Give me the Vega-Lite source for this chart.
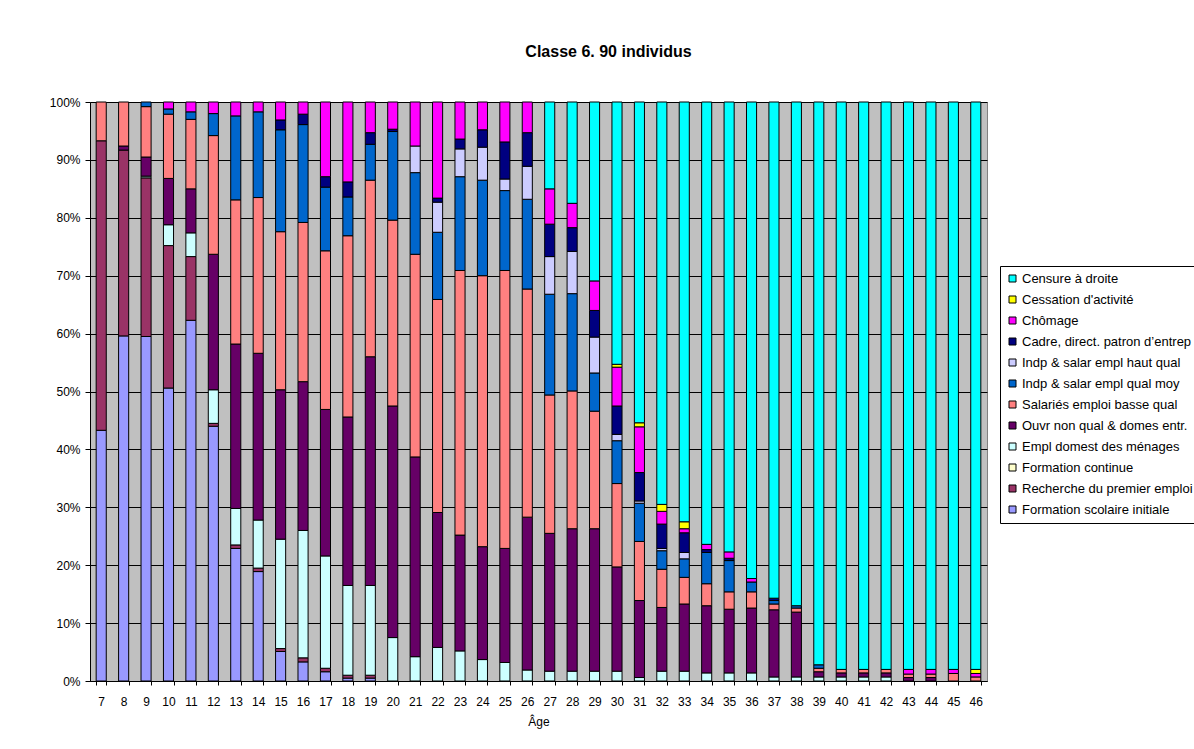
{
  "$schema": "https://vega.github.io/schema/vega-lite/v6.json",
  "autosize": {"type": "none"},
  "padding": {"left": 90, "top": 102, "right": 207, "bottom": 68},
  "width": 897,
  "height": 579,
  "title": {
    "text": "Classe 6. 90 individus",
    "fontSize": 16,
    "fontWeight": "bold",
    "font": "Liberation Sans",
    "color": "#000000",
    "anchor": "middle",
    "frame": "group",
    "baseline": "alphabetic",
    "offset": 23,
    "dx": 70
  },
  "datasets": {
    "statuts": [
      {"code": "FSI", "rang": 1, "libelle": "Formation scolaire initiale"},
      {"code": "RPE", "rang": 2, "libelle": "Recherche du premier emploi"},
      {"code": "FC", "rang": 3, "libelle": "Formation continue"},
      {"code": "ED", "rang": 4, "libelle": "Empl domest des ménages"},
      {"code": "ONQ", "rang": 5, "libelle": "Ouvr non qual & domes entr."},
      {"code": "SBQ", "rang": 6, "libelle": "Salariés emploi basse qual"},
      {"code": "IQM", "rang": 7, "libelle": "Indp & salar empl qual moy"},
      {"code": "IHQ", "rang": 8, "libelle": "Indp & salar empl haut qual"},
      {"code": "CAD", "rang": 9, "libelle": "Cadre, direct. patron d’entrep"},
      {"code": "CHO", "rang": 10, "libelle": "Chômage"},
      {"code": "CES", "rang": 11, "libelle": "Cessation d'activité"},
      {"code": "CEN", "rang": 12, "libelle": "Censure à droite"}
    ],
    "parcours": [
      {"age": 7, "code": "FSI", "pct": 43.3}, {"age": 7, "code": "RPE", "pct": 50.0}, {"age": 7, "code": "SBQ", "pct": 6.7},
      {"age": 8, "code": "FSI", "pct": 59.6}, {"age": 8, "code": "RPE", "pct": 32.1}, {"age": 8, "code": "ONQ", "pct": 0.7}, {"age": 8, "code": "SBQ", "pct": 7.6},
      {"age": 9, "code": "FSI", "pct": 59.5}, {"age": 9, "code": "RPE", "pct": 27.4}, {"age": 9, "code": "ED", "pct": 0.3}, {"age": 9, "code": "ONQ", "pct": 3.3}, {"age": 9, "code": "SBQ", "pct": 8.7}, {"age": 9, "code": "IQM", "pct": 0.8},
      {"age": 10, "code": "FSI", "pct": 50.6}, {"age": 10, "code": "RPE", "pct": 24.6}, {"age": 10, "code": "ED", "pct": 3.6}, {"age": 10, "code": "ONQ", "pct": 8.0}, {"age": 10, "code": "SBQ", "pct": 11.1}, {"age": 10, "code": "IQM", "pct": 0.9}, {"age": 10, "code": "CHO", "pct": 1.2},
      {"age": 11, "code": "FSI", "pct": 62.3}, {"age": 11, "code": "RPE", "pct": 11.0}, {"age": 11, "code": "ED", "pct": 4.1}, {"age": 11, "code": "ONQ", "pct": 7.6}, {"age": 11, "code": "SBQ", "pct": 12.0}, {"age": 11, "code": "IQM", "pct": 1.3}, {"age": 11, "code": "CHO", "pct": 1.7},
      {"age": 12, "code": "FSI", "pct": 44.0}, {"age": 12, "code": "RPE", "pct": 0.5}, {"age": 12, "code": "ED", "pct": 5.8}, {"age": 12, "code": "ONQ", "pct": 23.4}, {"age": 12, "code": "SBQ", "pct": 20.5}, {"age": 12, "code": "IQM", "pct": 3.8}, {"age": 12, "code": "CHO", "pct": 2.0},
      {"age": 13, "code": "FSI", "pct": 22.9}, {"age": 13, "code": "RPE", "pct": 0.6}, {"age": 13, "code": "ED", "pct": 6.3}, {"age": 13, "code": "ONQ", "pct": 28.4}, {"age": 13, "code": "SBQ", "pct": 24.9}, {"age": 13, "code": "IQM", "pct": 14.5}, {"age": 13, "code": "CHO", "pct": 2.4},
      {"age": 14, "code": "FSI", "pct": 18.9}, {"age": 14, "code": "RPE", "pct": 0.6}, {"age": 14, "code": "ED", "pct": 8.3}, {"age": 14, "code": "ONQ", "pct": 28.8}, {"age": 14, "code": "SBQ", "pct": 26.9}, {"age": 14, "code": "IQM", "pct": 14.8}, {"age": 14, "code": "CHO", "pct": 1.7},
      {"age": 15, "code": "FSI", "pct": 5.1}, {"age": 15, "code": "RPE", "pct": 0.5}, {"age": 15, "code": "ED", "pct": 18.9}, {"age": 15, "code": "ONQ", "pct": 25.8}, {"age": 15, "code": "SBQ", "pct": 27.3}, {"age": 15, "code": "IQM", "pct": 17.6}, {"age": 15, "code": "CAD", "pct": 1.7}, {"age": 15, "code": "CHO", "pct": 3.1},
      {"age": 16, "code": "FSI", "pct": 3.3}, {"age": 16, "code": "RPE", "pct": 0.7}, {"age": 16, "code": "ED", "pct": 22.0}, {"age": 16, "code": "ONQ", "pct": 25.7}, {"age": 16, "code": "SBQ", "pct": 27.5}, {"age": 16, "code": "IQM", "pct": 16.9}, {"age": 16, "code": "CAD", "pct": 1.8}, {"age": 16, "code": "CHO", "pct": 2.1},
      {"age": 17, "code": "FSI", "pct": 1.6}, {"age": 17, "code": "RPE", "pct": 0.6}, {"age": 17, "code": "ED", "pct": 19.4}, {"age": 17, "code": "ONQ", "pct": 25.3}, {"age": 17, "code": "SBQ", "pct": 27.4}, {"age": 17, "code": "IQM", "pct": 11.0}, {"age": 17, "code": "CAD", "pct": 1.8}, {"age": 17, "code": "CHO", "pct": 12.9},
      {"age": 18, "code": "FSI", "pct": 0.5}, {"age": 18, "code": "RPE", "pct": 0.5}, {"age": 18, "code": "ED", "pct": 15.5}, {"age": 18, "code": "ONQ", "pct": 29.1}, {"age": 18, "code": "SBQ", "pct": 31.3}, {"age": 18, "code": "IQM", "pct": 6.7}, {"age": 18, "code": "CAD", "pct": 2.6}, {"age": 18, "code": "CHO", "pct": 13.8},
      {"age": 19, "code": "FSI", "pct": 0.5}, {"age": 19, "code": "RPE", "pct": 0.5}, {"age": 19, "code": "ED", "pct": 15.5}, {"age": 19, "code": "ONQ", "pct": 39.5}, {"age": 19, "code": "SBQ", "pct": 30.5}, {"age": 19, "code": "IQM", "pct": 6.2}, {"age": 19, "code": "CAD", "pct": 2.0}, {"age": 19, "code": "CHO", "pct": 5.3},
      {"age": 20, "code": "ED", "pct": 7.5}, {"age": 20, "code": "ONQ", "pct": 40.0}, {"age": 20, "code": "SBQ", "pct": 32.1}, {"age": 20, "code": "IQM", "pct": 15.3}, {"age": 20, "code": "CAD", "pct": 0.4}, {"age": 20, "code": "CHO", "pct": 4.7},
      {"age": 21, "code": "ED", "pct": 4.2}, {"age": 21, "code": "ONQ", "pct": 34.5}, {"age": 21, "code": "SBQ", "pct": 35.0}, {"age": 21, "code": "IQM", "pct": 14.1}, {"age": 21, "code": "IHQ", "pct": 4.6}, {"age": 21, "code": "CHO", "pct": 7.6},
      {"age": 22, "code": "ED", "pct": 5.8}, {"age": 22, "code": "ONQ", "pct": 23.3}, {"age": 22, "code": "SBQ", "pct": 36.8}, {"age": 22, "code": "IQM", "pct": 11.6}, {"age": 22, "code": "IHQ", "pct": 5.2}, {"age": 22, "code": "CAD", "pct": 0.7}, {"age": 22, "code": "CHO", "pct": 16.6},
      {"age": 23, "code": "ED", "pct": 5.2}, {"age": 23, "code": "ONQ", "pct": 20.0}, {"age": 23, "code": "SBQ", "pct": 45.7}, {"age": 23, "code": "IQM", "pct": 16.2}, {"age": 23, "code": "IHQ", "pct": 4.8}, {"age": 23, "code": "CAD", "pct": 1.7}, {"age": 23, "code": "CHO", "pct": 6.4},
      {"age": 24, "code": "ED", "pct": 3.7}, {"age": 24, "code": "ONQ", "pct": 19.5}, {"age": 24, "code": "SBQ", "pct": 46.8}, {"age": 24, "code": "IQM", "pct": 16.5}, {"age": 24, "code": "IHQ", "pct": 5.7}, {"age": 24, "code": "CAD", "pct": 3.0}, {"age": 24, "code": "CHO", "pct": 4.8},
      {"age": 25, "code": "ED", "pct": 3.2}, {"age": 25, "code": "ONQ", "pct": 19.7}, {"age": 25, "code": "SBQ", "pct": 48.0}, {"age": 25, "code": "IQM", "pct": 13.8}, {"age": 25, "code": "IHQ", "pct": 2.0}, {"age": 25, "code": "CAD", "pct": 6.4}, {"age": 25, "code": "CHO", "pct": 6.9},
      {"age": 26, "code": "ED", "pct": 1.9}, {"age": 26, "code": "ONQ", "pct": 26.4}, {"age": 26, "code": "SBQ", "pct": 39.4}, {"age": 26, "code": "IQM", "pct": 15.5}, {"age": 26, "code": "IHQ", "pct": 5.7}, {"age": 26, "code": "CAD", "pct": 5.8}, {"age": 26, "code": "CHO", "pct": 5.3},
      {"age": 27, "code": "ED", "pct": 1.7}, {"age": 27, "code": "ONQ", "pct": 23.8}, {"age": 27, "code": "SBQ", "pct": 23.9}, {"age": 27, "code": "IQM", "pct": 17.4}, {"age": 27, "code": "IHQ", "pct": 6.5}, {"age": 27, "code": "CAD", "pct": 5.6}, {"age": 27, "code": "CHO", "pct": 6.1}, {"age": 27, "code": "CEN", "pct": 15.0},
      {"age": 28, "code": "ED", "pct": 1.7}, {"age": 28, "code": "ONQ", "pct": 24.6}, {"age": 28, "code": "SBQ", "pct": 23.8}, {"age": 28, "code": "IQM", "pct": 16.8}, {"age": 28, "code": "IHQ", "pct": 7.3}, {"age": 28, "code": "CAD", "pct": 4.1}, {"age": 28, "code": "CHO", "pct": 4.2}, {"age": 28, "code": "CEN", "pct": 17.5},
      {"age": 29, "code": "ED", "pct": 1.7}, {"age": 29, "code": "ONQ", "pct": 24.6}, {"age": 29, "code": "SBQ", "pct": 20.3}, {"age": 29, "code": "IQM", "pct": 6.6}, {"age": 29, "code": "IHQ", "pct": 6.2}, {"age": 29, "code": "CAD", "pct": 4.6}, {"age": 29, "code": "CHO", "pct": 5.1}, {"age": 29, "code": "CEN", "pct": 30.9},
      {"age": 30, "code": "ED", "pct": 1.7}, {"age": 30, "code": "ONQ", "pct": 18.0}, {"age": 30, "code": "SBQ", "pct": 14.4}, {"age": 30, "code": "IQM", "pct": 7.4}, {"age": 30, "code": "IHQ", "pct": 1.1}, {"age": 30, "code": "CAD", "pct": 4.9}, {"age": 30, "code": "CHO", "pct": 6.7}, {"age": 30, "code": "CES", "pct": 0.5}, {"age": 30, "code": "CEN", "pct": 45.3},
      {"age": 31, "code": "ED", "pct": 0.6}, {"age": 31, "code": "ONQ", "pct": 13.3}, {"age": 31, "code": "SBQ", "pct": 10.2}, {"age": 31, "code": "IQM", "pct": 6.6}, {"age": 31, "code": "IHQ", "pct": 0.4}, {"age": 31, "code": "CAD", "pct": 4.9}, {"age": 31, "code": "CHO", "pct": 7.9}, {"age": 31, "code": "CES", "pct": 0.7}, {"age": 31, "code": "CEN", "pct": 55.4},
      {"age": 32, "code": "ED", "pct": 1.7}, {"age": 32, "code": "ONQ", "pct": 11.0}, {"age": 32, "code": "SBQ", "pct": 6.6}, {"age": 32, "code": "IQM", "pct": 3.2}, {"age": 32, "code": "IHQ", "pct": 0.4}, {"age": 32, "code": "CAD", "pct": 4.2}, {"age": 32, "code": "CHO", "pct": 2.2}, {"age": 32, "code": "CES", "pct": 1.2}, {"age": 32, "code": "CEN", "pct": 69.5},
      {"age": 33, "code": "ED", "pct": 1.7}, {"age": 33, "code": "ONQ", "pct": 11.6}, {"age": 33, "code": "SBQ", "pct": 4.6}, {"age": 33, "code": "IQM", "pct": 3.2}, {"age": 33, "code": "IHQ", "pct": 1.1}, {"age": 33, "code": "CAD", "pct": 3.4}, {"age": 33, "code": "CHO", "pct": 0.7}, {"age": 33, "code": "CES", "pct": 1.2}, {"age": 33, "code": "CEN", "pct": 72.5},
      {"age": 34, "code": "ED", "pct": 1.4}, {"age": 34, "code": "ONQ", "pct": 11.6}, {"age": 34, "code": "SBQ", "pct": 3.8}, {"age": 34, "code": "IQM", "pct": 5.4}, {"age": 34, "code": "CAD", "pct": 0.5}, {"age": 34, "code": "CHO", "pct": 0.9}, {"age": 34, "code": "CEN", "pct": 76.4},
      {"age": 35, "code": "ED", "pct": 1.4}, {"age": 35, "code": "ONQ", "pct": 11.0}, {"age": 35, "code": "SBQ", "pct": 3.0}, {"age": 35, "code": "IQM", "pct": 5.4}, {"age": 35, "code": "CAD", "pct": 0.4}, {"age": 35, "code": "CHO", "pct": 1.1}, {"age": 35, "code": "CEN", "pct": 77.7},
      {"age": 36, "code": "ED", "pct": 1.4}, {"age": 36, "code": "ONQ", "pct": 11.2}, {"age": 36, "code": "SBQ", "pct": 2.8}, {"age": 36, "code": "IQM", "pct": 1.7}, {"age": 36, "code": "CHO", "pct": 0.6}, {"age": 36, "code": "CEN", "pct": 82.3},
      {"age": 37, "code": "ED", "pct": 0.7}, {"age": 37, "code": "ONQ", "pct": 11.6}, {"age": 37, "code": "SBQ", "pct": 1.0}, {"age": 37, "code": "IQM", "pct": 0.6}, {"age": 37, "code": "CAD", "pct": 0.4}, {"age": 37, "code": "CEN", "pct": 85.7},
      {"age": 38, "code": "ED", "pct": 0.7}, {"age": 38, "code": "ONQ", "pct": 11.2}, {"age": 38, "code": "SBQ", "pct": 0.7}, {"age": 38, "code": "IQM", "pct": 0.4}, {"age": 38, "code": "CEN", "pct": 87.0},
      {"age": 39, "code": "ED", "pct": 0.7}, {"age": 39, "code": "ONQ", "pct": 0.9}, {"age": 39, "code": "SBQ", "pct": 0.6}, {"age": 39, "code": "IQM", "pct": 0.6}, {"age": 39, "code": "CEN", "pct": 97.2},
      {"age": 40, "code": "ED", "pct": 0.7}, {"age": 40, "code": "ONQ", "pct": 0.7}, {"age": 40, "code": "SBQ", "pct": 0.6}, {"age": 40, "code": "CEN", "pct": 98.0},
      {"age": 41, "code": "ED", "pct": 0.7}, {"age": 41, "code": "ONQ", "pct": 0.7}, {"age": 41, "code": "SBQ", "pct": 0.6}, {"age": 41, "code": "CEN", "pct": 98.0},
      {"age": 42, "code": "ED", "pct": 0.7}, {"age": 42, "code": "ONQ", "pct": 0.7}, {"age": 42, "code": "SBQ", "pct": 0.6}, {"age": 42, "code": "CEN", "pct": 98.0},
      {"age": 43, "code": "ONQ", "pct": 0.6}, {"age": 43, "code": "SBQ", "pct": 0.6}, {"age": 43, "code": "CHO", "pct": 0.8}, {"age": 43, "code": "CEN", "pct": 98.0},
      {"age": 44, "code": "ONQ", "pct": 0.6}, {"age": 44, "code": "SBQ", "pct": 0.6}, {"age": 44, "code": "CHO", "pct": 0.8}, {"age": 44, "code": "CEN", "pct": 98.0},
      {"age": 45, "code": "SBQ", "pct": 1.3}, {"age": 45, "code": "CHO", "pct": 0.7}, {"age": 45, "code": "CEN", "pct": 98.0},
      {"age": 46, "code": "SBQ", "pct": 0.7}, {"age": 46, "code": "CHO", "pct": 0.6}, {"age": 46, "code": "CES", "pct": 0.7}, {"age": 46, "code": "CEN", "pct": 98.0}
    ]
  },
  "data": {"name": "parcours"},
  "transform": [
    {"lookup": "code", "from": {"data": {"name": "statuts"}, "key": "code", "fields": ["libelle", "rang"]}}
  ],
  "mark": {"type": "bar", "stroke": "#000000", "strokeWidth": 1},
  "encoding": {
    "x": {
      "field": "age",
      "type": "ordinal",
      "sort": "ascending",
      "scale": {"paddingInner": 0.55, "paddingOuter": 0.275},
      "axis": {
        "title": "Âge",
        "titleFontSize": 12,
        "titleFontWeight": "normal",
        "titlePadding": 9,
        "labelAngle": 0,
        "labelFontSize": 12,
        "labelPadding": 11,
        "labelColor": "#000000",
        "tickBand": "extent",
        "tickSize": 4,
        "tickColor": "#000000",
        "domainColor": "#000000",
        "grid": false
      }
    },
    "y": {
      "field": "pct",
      "type": "quantitative",
      "stack": "normalize",
      "scale": {"domain": [0, 1], "nice": false},
      "axis": {
        "title": null,
        "format": ".0%",
        "values": [0, 0.1, 0.2, 0.3, 0.4, 0.5, 0.6, 0.7, 0.8, 0.9, 1],
        "labelFontSize": 12,
        "labelPadding": 5,
        "labelColor": "#000000",
        "tickSize": 5,
        "tickColor": "#000000",
        "domainColor": "#000000",
        "grid": true,
        "gridColor": "#000000",
        "gridWidth": 1,
        "gridOpacity": 1
      }
    },
    "color": {
      "field": "libelle",
      "type": "nominal",
      "scale": {
        "domain": [
          "Censure à droite",
          "Cessation d'activité",
          "Chômage",
          "Cadre, direct. patron d’entrep",
          "Indp & salar empl haut qual",
          "Indp & salar empl qual moy",
          "Salariés emploi basse qual",
          "Ouvr non qual & domes entr.",
          "Empl domest des ménages",
          "Formation continue",
          "Recherche du premier emploi",
          "Formation scolaire initiale"
        ],
        "range": ["#00FFFF", "#FFFF00", "#FF00FF", "#000080", "#CCCCFF", "#0066CC", "#FF8080", "#660066", "#CCFFFF", "#FFFFCC", "#993366", "#9999FF"]
      },
      "legend": {
        "title": null,
        "orient": "none",
        "legendX": 910,
        "legendY": 164,
        "padding": 6,
        "strokeColor": "#000000",
        "fillColor": "#FFFFFF",
        "labelFontSize": 13,
        "labelColor": "#000000",
        "labelLimit": 300,
        "labelOffset": 3,
        "rowPadding": 7,
        "symbolType": "square",
        "symbolSize": 49,
        "symbolStrokeColor": "#000000",
        "symbolStrokeWidth": 1,
        "symbolOpacity": 1
      }
    },
    "order": {"field": "rang", "type": "quantitative", "sort": "ascending"}
  },
  "config": {
    "font": "Liberation Sans",
    "view": {"fill": "#C0C0C0", "stroke": "#808080"},
    "axis": {"labelFont": "Liberation Sans", "titleFont": "Liberation Sans"},
    "legend": {"labelFont": "Liberation Sans"}
  }
}
